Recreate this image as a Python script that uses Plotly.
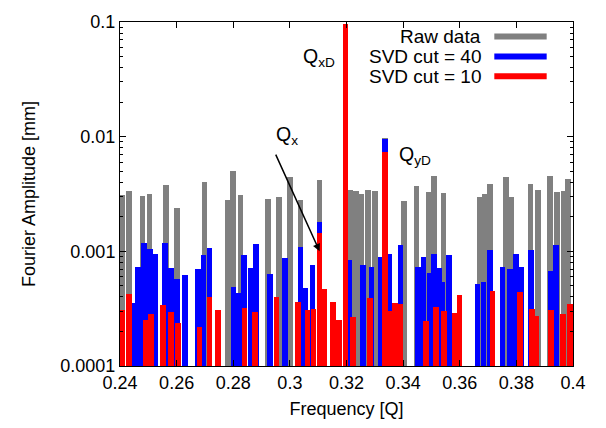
import plotly.graph_objects as go

# ---- data (frequency [Q], Fourier amplitude [mm]) ----
raw_freq = [0.2408, 0.24325, 0.24795, 0.25042, 0.25618, 0.26021, 0.26979, 0.27816, 0.27986,
            0.28251, 0.29223, 0.29608, 0.30007, 0.30378, 0.31049, 0.31968, 0.32138, 0.32329,
            0.32534, 0.3277, 0.33004, 0.33357, 0.34028, 0.34477, 0.34894, 0.35102, 0.3542,
            0.36703, 0.3688, 0.37074, 0.37633, 0.37823, 0.38495, 0.3876, 0.39194, 0.39435,
            0.39671, 0.39813]
raw_amp = [0.0031, 0.00337, 0.00303, 0.00314, 0.00378, 0.00238, 0.0040, 0.0028, 0.0050,
           0.00308, 0.00284, 0.00295, 0.00441, 0.0028, 0.00415, 0.0955, 0.0034, 0.00337,
           0.00316, 0.00344, 0.00333, 0.00976, 0.00276, 0.00373, 0.00331, 0.00455, 0.0032,
           0.0030, 0.00314, 0.00383, 0.00447, 0.00295, 0.00386, 0.0034, 0.00453, 0.00327,
           0.00335, 0.00424]

svd40_freq = [0.24442, 0.24647, 0.24855, 0.2505, 0.25244, 0.25597, 0.25802, 0.26014, 0.26304,
              0.26749, 0.2695, 0.27156, 0.28011, 0.28187, 0.28371, 0.28629, 0.28813, 0.29307,
              0.2983, 0.30378, 0.30548, 0.30802, 0.31049, 0.31968, 0.32092, 0.32576, 0.32887,
              0.33205, 0.33357, 0.33505, 0.33912, 0.3453, 0.34724, 0.34926, 0.35102, 0.35262,
              0.35378, 0.35625, 0.36626, 0.36837, 0.37057, 0.37505, 0.37781, 0.37993, 0.3817,
              0.38523, 0.39201, 0.39406]
svd40_amp = [0.000354, 0.000734, 0.00118, 0.00105, 0.000953, 0.00118, 0.00072, 0.000577, 0.000622,
             0.000701, 0.000928, 0.00108, 0.000486, 0.000436, 0.000928, 0.000711, 0.001165, 0.000631,
             0.000869, 0.0011, 0.000476, 0.00076, 0.0018, 0.0955, 0.00084, 0.00076, 0.000734,
             0.000897, 0.00945, 0.000942, 0.001135, 0.000734, 0.000897, 0.000643, 0.000942, 0.000711,
             0.000543, 0.000928, 0.000519, 0.000543, 0.00103, 0.000725, 0.000697, 0.000942, 0.000734,
             0.00103, 0.000674, 0.001135]

svd10_freq = [0.24088, 0.24325, 0.24912, 0.25088, 0.2553, 0.25795, 0.26039, 0.26809, 0.27156,
              0.27456, 0.28392, 0.28777, 0.29523, 0.30283, 0.30625, 0.30831, 0.31049, 0.31208,
              0.3152, 0.31728, 0.31968, 0.32233, 0.32823, 0.33357, 0.33551, 0.3371, 0.33912,
              0.34806, 0.35159, 0.35449, 0.35827, 0.35986, 0.37156, 0.38134, 0.38551, 0.3871,
              0.39223, 0.39643, 0.39894]
svd10_amp = [0.000308, 0.000422, 0.000252, 0.000283, 0.00034, 0.000298, 0.000236, 0.00022, 0.000402,
             0.000308, 0.000321, 0.000298, 0.000402, 0.000364, 0.000308, 0.000313, 0.00145, 0.000467,
             0.000362, 0.000252, 0.0955, 0.00027, 0.000394, 0.00737, 0.000302, 0.000357, 0.000347,
             0.000248, 0.000325, 0.000302, 0.00029, 0.000419, 0.000451, 0.000445, 0.000316, 0.000275,
             0.000308, 0.000285, 0.000345]

series = [
    ("Raw data", raw_freq, raw_amp, "#808080"),
    ("SVD cut = 40", svd40_freq, svd40_amp, "#0000ff"),
    ("SVD cut = 10", svd10_freq, svd10_amp, "#ff0000"),
]

x_ticks = [0.24, 0.26, 0.28, 0.30, 0.32, 0.34, 0.36, 0.38, 0.40]
x_ticklabels = ["0.24", "0.26", "0.28", "0.3", "0.32", "0.34", "0.36", "0.38", "0.4"]
y_ticks = [0.0001, 0.001, 0.01, 0.1]
y_ticklabels = ["0.0001", "0.001", "0.01", "0.1"]

FONT = "Liberation Sans, Arial, Helvetica, sans-serif"

fig = go.Figure()
for name, fx, amp, col in series:
    fig.add_trace(go.Bar(x=fx, y=amp, name=name, width=0.002,
                         marker=dict(color=col, line=dict(width=0)),
                         showlegend=False))

# custom legend: text on the left, line sample on the right
leg_y = [0.9575, 0.8995, 0.842]
for (name, fx, amp, col), ly in zip(series, leg_y):
    fig.add_annotation(xref="paper", yref="paper", x=0.80, y=ly, text=name,
                       showarrow=False, xanchor="right", yanchor="middle",
                       borderpad=0,
                       font=dict(size=19, color="black", family=FONT))
    fig.add_shape(type="line", xref="paper", yref="paper", x0=0.8263, x1=0.9419,
                  y0=ly, y1=ly, line=dict(color=col, width=6))

# peak labels
fig.add_annotation(x=0.3167, y=-1.3075, xref="x", yref="y", text="Q<sub>xD</sub>",
                   showarrow=False, xanchor="right", yanchor="middle",
                   font=dict(size=19.5, color="black", family=FONT))
fig.add_annotation(x=0.3379, y=-2.161, xref="x", yref="y", text="Q<sub>yD</sub>",
                   showarrow=False, xanchor="left", yanchor="middle",
                   font=dict(size=19.5, color="black", family=FONT))
fig.add_annotation(x=0.2990, y=-1.99, xref="x", yref="y", text="Q<sub>x</sub>",
                   showarrow=False, xanchor="center", yanchor="middle",
                   font=dict(size=19.5, color="black", family=FONT))
fig.add_annotation(x=0.3105, y=-3.0, xref="x", yref="y", ax=0.29477, ay=-2.144,
                   axref="x", ayref="y", text="", showarrow=True,
                   arrowhead=2, arrowsize=1, arrowwidth=1.5, arrowcolor="black")

fig.update_layout(
    width=606, height=428,
    margin=dict(l=120, r=33, t=22, b=62),
    paper_bgcolor="white", plot_bgcolor="white",
    barmode="overlay", bargap=0,
    font=dict(family=FONT, size=18, color="black"),
    showlegend=False,
)
fig.update_xaxes(range=[0.24, 0.40], tickvals=x_ticks, ticktext=x_ticklabels,
                 ticks="inside", ticklen=6, tickwidth=1, tickcolor="black",
                 showline=True, linecolor="black", linewidth=1, mirror="allticks",
                 showgrid=False, zeroline=False, tickfont=dict(size=18),
                 title=dict(text="Frequency [Q]", font=dict(size=18), standoff=10))
fig.update_yaxes(type="log", range=[-4, -1], tickvals=y_ticks, ticktext=y_ticklabels,
                 ticks="inside", ticklen=6, tickwidth=1, tickcolor="black",
                 showline=True, linecolor="black", linewidth=1, mirror="allticks",
                 showgrid=False, zeroline=False, tickfont=dict(size=18),
                 minor=dict(ticks="inside", ticklen=3, tickcolor="black", dtick="D1", showgrid=False),
                 title=dict(text="Fourier Amplitude [mm]", font=dict(size=18), standoff=20))

fig.write_html("out.html")
